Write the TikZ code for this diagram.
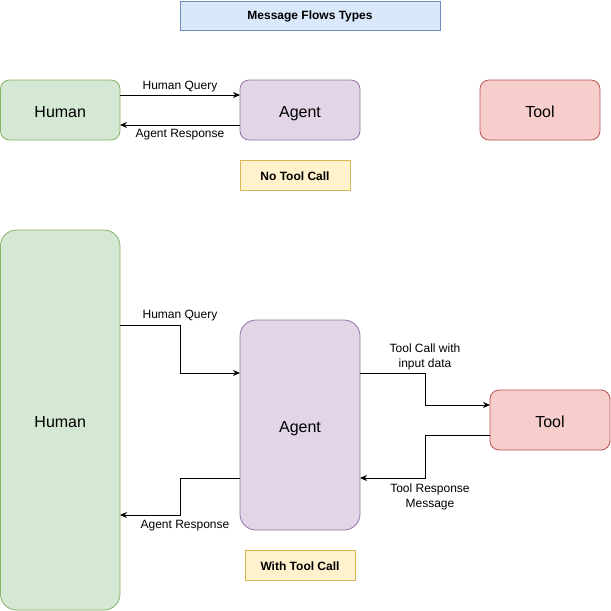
\documentclass[tikz,border=0pt]{standalone}
\usepackage{fontspec}
\setmainfont{Liberation Sans}
\usetikzlibrary{arrows.meta}
\definecolor{bluefill}{HTML}{DAE8FC}\definecolor{bluedraw}{HTML}{6C8EBF}
\definecolor{greenfill}{HTML}{D5E8D4}\definecolor{greendraw}{HTML}{82B366}
\definecolor{purplefill}{HTML}{E1D5E7}\definecolor{purpledraw}{HTML}{9673A6}
\definecolor{redfill}{HTML}{F8CECC}\definecolor{reddraw}{HTML}{B85450}
\definecolor{yellowfill}{HTML}{FFF2CC}\definecolor{yellowdraw}{HTML}{D6B656}
\begin{document}
\begin{tikzpicture}[x=1pt,y=-1pt,
  box/.style={draw,line width=0.8pt,font=\fontsize{16}{19}\selectfont},
  txt/.style={draw=none,text depth=0pt,yshift=-2pt},
  lab/.style={font=\fontsize{12}{14.5}\selectfont,align=center,inner sep=1pt},
  flow/.style={line width=0.8pt,-{Stealth[length=7pt,width=6pt]}},
  tag/.style={draw,line width=0.8pt,font=\bfseries\fontsize{12}{14}\selectfont}]
\useasboundingbox (0,0) rectangle (611,611);
% title
\draw[tag,fill=bluefill,draw=bluedraw] (180,1) rectangle (440,30) node[midway,draw=none,yshift=-1pt] (title) {Message Flows Types};
% top row
\draw[box,fill=greenfill,draw=greendraw,rounded corners=9pt] (0.5,80) rectangle (120,140) node[midway,txt] (h1) {Human};
\draw[box,fill=purplefill,draw=purpledraw,rounded corners=9pt] (240,80) rectangle (360,140) node[midway,txt] (a1) {Agent};
\draw[box,fill=redfill,draw=reddraw,rounded corners=9pt] (480,80) rectangle (600,140) node[midway,txt] (t1) {Tool};
\coordinate (h1q) at (120,95); \coordinate (a1q) at (240,95);
\coordinate (h1r) at (120,125); \coordinate (a1r) at (240,125);
\draw[flow] (h1q) -- (a1q);
\draw[flow] (a1r) -- (h1r);
\node[lab] at (180,86.5) {Human Query};
\node[lab] at (180,135) {Agent Response};
\draw[tag,fill=yellowfill,draw=yellowdraw] (240,160) rectangle (350,190) node[midway,draw=none,yshift=-1pt] (nt) {No Tool Call};
% bottom row
\draw[box,fill=greenfill,draw=greendraw,rounded corners=16pt] (0.5,230) rectangle (120,610) node[midway,txt] (h2) {Human};
\draw[box,fill=purplefill,draw=purpledraw,rounded corners=16pt] (240,320) rectangle (360,530) node[midway,txt] (a2) {Agent};
\draw[box,fill=redfill,draw=reddraw,rounded corners=9pt] (490,390) rectangle (610,450) node[midway,txt] (t2) {Tool};
\coordinate (hq1) at (120,325); \coordinate (aq1) at (240,373);
\coordinate (ar1) at (240,478); \coordinate (hr1) at (120,515);
\coordinate (tc1) at (360,373); \coordinate (tc2) at (490,405);
\coordinate (tr1) at (490,435); \coordinate (tr2) at (360,478);
\draw[flow] (hq1) -- (180,325) -- (180,373) -- (aq1);
\draw[flow] (ar1) -- (180,478) -- (180,515) -- (hr1);
\draw[flow] (tc1) -- (425,373) -- (425,405) -- (tc2);
\draw[flow] (tr1) -- (425,435) -- (425,478) -- (tr2);
\node[lab] at (180,316) {Human Query};
\node[lab] at (185,526) {Agent Response};
\node[lab] at (425,357) {Tool Call with\\input data};
\node[lab] at (430,497) {Tool Response\\Message};
\draw[tag,fill=yellowfill,draw=yellowdraw] (245,550) rectangle (355,580) node[midway,draw=none,yshift=-1pt] (wt) {With Tool Call};
\end{tikzpicture}
\end{document}
